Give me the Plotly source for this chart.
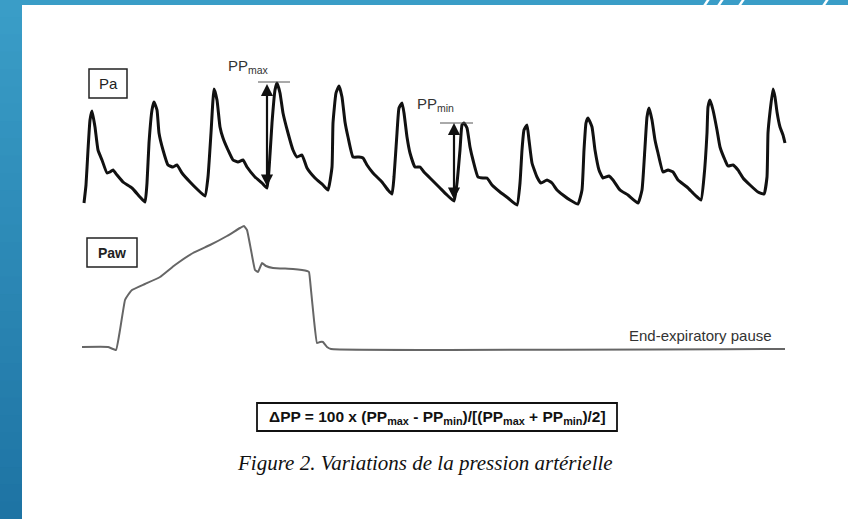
import plotly.graph_objects as go

# ---- Data ----
# Arterial pressure (Pa): time in s, pressure in mmHg
pa_time = [0.01, 0.03, 0.05, 0.07, 0.09, 0.12, 0.15, 0.19, 0.24, 0.27, 0.30, 0.34, 0.40, 0.49, 0.57, 0.62,
           0.64, 0.66, 0.69, 0.71, 0.74, 0.76, 0.80, 0.85, 0.90, 0.94, 0.99, 1.07, 1.15, 1.22,
           1.25, 1.28, 1.31, 1.34, 1.37, 1.40, 1.45, 1.50, 1.55, 1.60, 1.64, 1.72, 1.79, 1.84,
           1.86, 1.89, 1.92, 1.94, 1.97, 2.00, 2.05, 2.10, 2.14, 2.19, 2.24, 2.32, 2.40, 2.45,
           2.49, 2.50, 2.53, 2.56, 2.59, 2.62, 2.65, 2.70, 2.76, 2.80, 2.84, 2.90, 2.99, 3.05, 3.09,
           3.11, 3.14, 3.16, 3.19, 3.21, 3.24, 3.27, 3.32, 3.37, 3.41, 3.49, 3.57, 3.64, 3.71,
           3.74, 3.77, 3.79, 3.81, 3.84, 3.87, 3.90, 3.95, 4.00, 4.04, 4.09, 4.17, 4.25, 4.34,
           4.37, 4.39, 4.41, 4.44, 4.46, 4.49, 4.54, 4.58, 4.64, 4.69, 4.74, 4.80, 4.87, 4.95,
           4.99, 5.01, 5.03, 5.05, 5.09, 5.12, 5.16, 5.20, 5.26, 5.30, 5.37, 5.45, 5.55,
           5.59, 5.62, 5.64, 5.66, 5.69, 5.72, 5.75, 5.80, 5.85, 5.90, 5.95, 6.04, 6.12, 6.18,
           6.21, 6.24, 6.25, 6.27, 6.30, 6.34, 6.37, 6.42, 6.45, 6.50, 6.55, 6.60, 6.67, 6.75, 6.81,
           6.84, 6.85, 6.87, 6.90, 6.92, 6.94, 6.97, 7.00, 7.02]
pa_mmhg = [68.5, 77.5, 95, 110, 114.5, 106.5, 95, 90, 83.5, 84, 85, 82.5, 79, 76, 71.5, 69,
           78.5, 98.5, 115, 119, 115, 103.5, 95, 87.5, 86.5, 87.5, 83.5, 79, 75, 72,
           81.5, 103.5, 125.5, 120, 106.5, 101, 95, 90, 89, 90, 86.5, 81.5, 78.5, 76,
           85, 108.5, 125, 128.5, 123.5, 113.5, 103.5, 95, 91.5, 92.5, 86, 81, 77.5, 75,
           86.5, 108.5, 123.5, 127, 121.5, 109, 101.5, 91.5, 91.5, 91, 87.5, 83.5, 79, 75, 73,
           81.5, 103.5, 116, 118.5, 113.5, 101.5, 93.5, 86.5, 86.5, 84, 80, 76, 72.5, 69.5,
           78.5, 95, 107.5, 108.5, 106, 96.5, 90, 81.5, 81, 81, 77.5, 74, 71, 67.5,
           78.5, 95, 105, 107.5, 100, 88.5, 81.5, 78.5, 80, 78.5, 75, 72.5, 70, 68,
           75, 95, 108.5, 111, 106.5, 95, 85, 81, 82, 80, 75, 72.5, 68.5,
           75, 96.5, 111.5, 116, 110, 100, 93.5, 84, 85, 84, 80, 76.5, 72.5, 70,
           81.5, 103.5, 116.5, 120, 115, 105, 96.5, 90, 87, 87.5, 85, 81, 77.5, 74, 73,
           81.5, 103.5, 114, 125.5, 121.5, 114, 106.5, 102.5, 98.5]

# Airway pressure (Paw): time in s, pressure in cmH2O
paw_time = [-0.01, 0.25, 0.33, 0.37, 0.42, 0.45, 0.49, 0.62, 0.77, 0.92, 1.10, 1.27, 1.44, 1.57, 1.61,
            1.64, 1.68, 1.72, 1.75, 1.79, 1.83, 1.90, 2.10, 2.24, 2.26, 2.28, 2.31, 2.34, 2.37,
            2.40, 2.44, 2.48, 7.02]
paw_cmh2o = [5, 5, 4.4, 8.4, 14.4, 15.4, 16.4, 17.6, 19, 21.4, 23.8, 25.4, 27.2, 28.8, 29.2,
             28.4, 24.4, 20.4, 20, 21.8, 21.2, 20.8, 20.6, 20.2, 20, 16.4, 10.4, 5.8, 6,
             6, 5, 4.6, 4.6]

# Pulse pressure markers: (time, diastolic, systolic)
ppmax_t, ppmax_lo, ppmax_hi = 1.84, 76, 128
ppmin_t, ppmin_lo, ppmin_hi = 3.71, 69.5, 108.5

W, H = 848, 519
def PX(x): return x / W
def PY(y): return 1 - y / H

fig = go.Figure()
fig.add_trace(go.Scatter(x=pa_time, y=pa_mmhg, mode="lines",
                         line=dict(color="#111111", width=3, shape="spline", smoothing=0.4),
                         hoverinfo="skip", showlegend=False))
fig.add_trace(go.Scatter(x=paw_time, y=paw_cmh2o, mode="lines", yaxis="y2",
                         line=dict(color="#666666", width=2, shape="spline", smoothing=0.3),
                         hoverinfo="skip", showlegend=False))

shapes = []
# slide decoration: left gradient band
n = 30
c0 = (0x3a, 0x9d, 0xc7)
c1 = (0x1e, 0x74, 0xa4)
for i in range(n):
    f = i / (n - 1)
    col = "rgb(%d,%d,%d)" % tuple(round(c0[k] + (c1[k] - c0[k]) * f) for k in range(3))
    shapes.append(dict(type="rect", xref="paper", yref="paper", layer="below",
                       x0=PX(0), x1=PX(22), y0=PY(i * H / n), y1=PY((i + 1) * H / n + 1),
                       fillcolor=col, line=dict(width=0)))
# top band
shapes.append(dict(type="rect", xref="paper", yref="paper", x0=0, x1=1, y0=PY(5), y1=1,
                   fillcolor="#3a9dc7", line=dict(width=0)))
# white slashes in top band
for sx in [703, 717, 738, 822]:
    path = "M %f %f L %f %f L %f %f L %f %f Z" % (
        PX(sx), PY(5.5), PX(sx + 3), PY(5.5), PX(sx + 7), PY(-0.5), PX(sx + 4), PY(-0.5))
    shapes.append(dict(type="path", xref="paper", yref="paper", path=path,
                       fillcolor="white", line=dict(width=0)))
# label boxes
shapes.append(dict(type="rect", xref="paper", yref="paper", x0=PX(89), x1=PX(127), y0=PY(98), y1=PY(69),
                   line=dict(color="#222", width=1.5)))
shapes.append(dict(type="rect", xref="paper", yref="paper", x0=PX(87), x1=PX(137), y0=PY(267), y1=PY(238),
                   line=dict(color="#222", width=1.5)))
# formula box
shapes.append(dict(type="rect", xref="paper", yref="paper", x0=PX(257), x1=PX(617), y0=PY(431), y1=PY(403),
                   line=dict(color="#111", width=1.8)))
# PP tick lines
shapes.append(dict(type="line", xref="x", yref="y", x0=1.75, x1=2.07, y0=129, y1=129,
                   line=dict(color="#555", width=1)))
shapes.append(dict(type="line", xref="x", yref="y", x0=3.57, x1=3.90, y0=108.5, y1=108.5,
                   line=dict(color="#555", width=1)))

annotations = [
    dict(x=ppmax_t, y=ppmax_hi, ax=ppmax_t, ay=ppmax_lo, xref="x", yref="y", axref="x", ayref="y",
         text="", showarrow=True, arrowside="end+start", arrowhead=2, arrowsize=1.1, arrowwidth=2.2,
         arrowcolor="#111", standoff=0, startstandoff=0),
    dict(x=ppmin_t, y=ppmin_hi, ax=ppmin_t, ay=ppmin_lo, xref="x", yref="y", axref="x", ayref="y",
         text="", showarrow=True, arrowside="end+start", arrowhead=2, arrowsize=1.1, arrowwidth=2.2,
         arrowcolor="#111", standoff=0, startstandoff=0),
    dict(x=PX(226), y=PY(66), xref="paper", yref="paper", xanchor="left", yanchor="middle",
         text="PP<sub>max</sub>", showarrow=False, font=dict(family="Liberation Sans", size=15, color="#333")),
    dict(x=PX(415), y=PY(104), xref="paper", yref="paper", xanchor="left", yanchor="middle",
         text="PP<sub>min</sub>", showarrow=False, font=dict(family="Liberation Sans", size=15, color="#333")),
    dict(x=PX(108), y=PY(83.5), xref="paper", yref="paper", xanchor="center", yanchor="middle",
         text="Pa", showarrow=False, font=dict(family="Liberation Sans", size=15, color="#222")),
    dict(x=PX(112), y=PY(252.5), xref="paper", yref="paper", xanchor="center", yanchor="middle",
         text="<b>Paw</b>", showarrow=False, font=dict(family="Liberation Sans", size=14, color="#222")),
    dict(x=PX(627), y=PY(335), xref="paper", yref="paper", xanchor="left", yanchor="middle",
         text="End-expiratory pause", showarrow=False,
         font=dict(family="Liberation Sans", size=15, color="#333")),
    dict(x=PX(437), y=PY(417), xref="paper", yref="paper", xanchor="center", yanchor="middle",
         text="<b>ΔPP = 100 x (PP<sub>max</sub> - PP<sub>min</sub>)/[(PP<sub>max</sub> + PP<sub>min</sub>)/2]</b>",
         showarrow=False, font=dict(family="Liberation Sans", size=15.5, color="#111")),
    dict(x=PX(425), y=PY(463), xref="paper", yref="paper", xanchor="center", yanchor="middle",
         text="<i>Figure 2. Variations de la pression artérielle</i>", showarrow=False,
         font=dict(family="Liberation Serif", size=21, color="#111")),
]

fig.update_layout(
    width=W, height=H, margin=dict(l=0, r=0, t=0, b=0),
    paper_bgcolor="white", plot_bgcolor="white",
    xaxis=dict(range=[-0.83, 7.65], visible=False, fixedrange=True),
    yaxis=dict(range=[-89.5, 170], visible=False, fixedrange=True),
    yaxis2=dict(range=[-29.4, 74.4], visible=False, overlaying="y", fixedrange=True),
    shapes=shapes, annotations=annotations, showlegend=False,
)
fig.write_html("out.html", config={"displayModeBar": False})
